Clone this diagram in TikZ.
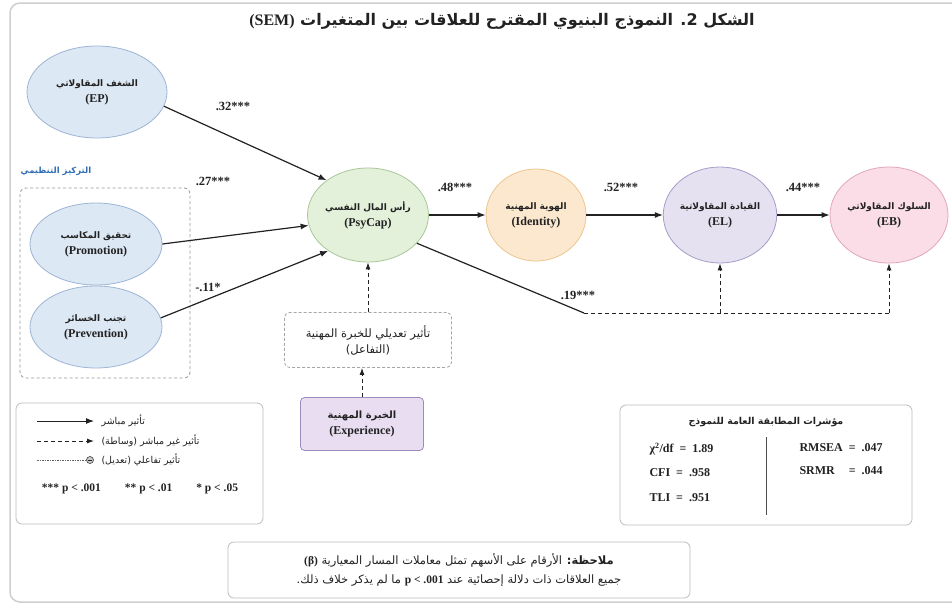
\documentclass[tikz,border=0pt]{standalone}
\usepackage{fontspec}
\setmainfont{Liberation Serif}
\newfontfamily\arfont[Script=Arabic]{DejaVu Sans}
\TeXXeTstate=1
\usetikzlibrary{shapes.geometric,arrows.meta,calc}
\newcommand{\AR}[1]{{\arfont\beginR #1\endR}}
\newcommand{\LT}[1]{\beginL{\normalfont\bfseries #1}\endL}
\newcommand{\ARL}[1]{{\fontsize{9}{11}\selectfont\arfont\bfseries\beginR #1\endR}}
\newcommand{\LAT}[1]{{\fontsize{12}{13}\selectfont\bfseries #1}}
\definecolor{epfill}{HTML}{DDE8F5}\definecolor{epdraw}{HTML}{9DB4D4}
\definecolor{psyfill}{HTML}{E3F0DA}\definecolor{psydraw}{HTML}{A8C898}
\definecolor{idfill}{HTML}{FCE8CF}\definecolor{iddraw}{HTML}{EDC68E}
\definecolor{elfill}{HTML}{E6E1F1}\definecolor{eldraw}{HTML}{A79DC9}
\definecolor{ebfill}{HTML}{FADDE6}\definecolor{ebdraw}{HTML}{E3A6BA}
\definecolor{expfill}{HTML}{E9DEF1}\definecolor{expdraw}{HTML}{9C8CBE}
\definecolor{grpblue}{HTML}{2F6DB5}
\definecolor{ink}{HTML}{222222}
\definecolor{framec}{HTML}{CFCFCF}
\definecolor{boxline}{HTML}{BDBDBD}
\begin{document}
\begin{tikzpicture}[x=1pt,y=-1pt,
  latent/.style 2 args={ellipse, draw=#2, fill=#1, line width=0.8pt, inner sep=0pt, align=center, text=ink},
  coef/.style={font=\bfseries\fontsize{12.5}{13}\selectfont, text=ink},
  direct/.style={draw=ink, line width=1.2pt, -{Latex[length=8pt,width=6pt]}},
  plainline/.style={draw=ink, line width=1.2pt},
  dashedline/.style={draw=ink, line width=0.9pt, dash pattern=on 4pt off 3pt},
  dashedarrow/.style={dashedline, -{Latex[length=7pt,width=5pt]}},
  panel/.style={draw=boxline, line width=0.8pt, rounded corners=6pt, fill=white},
  legtxt/.style={font=\fontsize{9.5}{11}\selectfont, text=ink},
  notetxt/.style={font=\fontsize{11.5}{13}\selectfont, text=ink},
  fit/.style={font=\bfseries\fontsize{12}{13}\selectfont, text=ink}
]
\useasboundingbox (0,0) rectangle (952,605);
\fill[white] (0,0) rectangle (952,605);
\draw[framec, line width=1.5pt, rounded corners=10pt] (10,3) rectangle (995,602);

% title
\node[font=\bfseries\fontsize{16}{18}\selectfont, text=ink] (title) at (502,21)
  {\AR{\bfseries الشكل 2. النموذج البنيوي المقترح للعلاقات بين المتغيرات \LT{(SEM)}}};

% latent variables
\node[latent={epfill}{epdraw}, minimum width=140, minimum height=92] (EP) at (97,92)
  {\ARL{الشغف المقاولاتي}\\[4pt]\LAT{(EP)}};
\node[font=\bfseries\fontsize{8.5}{10}\selectfont, text=grpblue] (grp) at (56,171) {\AR{التركيز التنظيمي}};
\draw[boxline!80!black, line width=0.8pt, dash pattern=on 3pt off 2.5pt, rounded corners=6pt] (20,188) rectangle (190,378);
\node[latent={epfill}{epdraw}, minimum width=132, minimum height=82] (Pro) at (96,244)
  {\ARL{تحقيق المكاسب}\\[4pt]\LAT{(Promotion)}};
\node[latent={epfill}{epdraw}, minimum width=132, minimum height=82] (Prev) at (96,327)
  {\ARL{تجنب الخسائر}\\[4pt]\LAT{(Prevention)}};

\node[latent={psyfill}{psydraw}, minimum width=116, minimum height=94] (Psy) at (368,215)
  {\ARL{رأس المال النفسي}\\[4pt]\LAT{(PsyCap)}};
\node[latent={idfill}{iddraw}, minimum width=100, minimum height=92] (Id) at (536,215)
  {\ARL{الهوية المهنية}\\[4pt]\LAT{(Identity)}};
\node[latent={elfill}{eldraw}, minimum width=112, minimum height=96] (EL) at (720,215)
  {\ARL{القيادة المقاولاتية}\\[4pt]\LAT{(EL)}};
\node[latent={ebfill}{ebdraw}, minimum width=114, minimum height=96] (EB) at (889,215)
  {\ARL{السلوك المقاولاتي}\\[4pt]\LAT{(EB)}};

% direct paths
\draw[direct] (EP.-12) -- (Psy.140);
\draw[direct] (Pro.east) -- (Psy.190);
\draw[direct] (Prev.8) -- (Psy.222);
\draw[direct] (Psy.east) -- (Id.west);
\draw[direct] (Id.east) -- (EL.west);
\draw[direct] (EL.east) -- (EB.west);

\node[coef] (c32) at (233,106) {.32***};
\node[coef] (c27) at (213,181) {.27***};
\node[coef] (c11) at (208,287) {-.11*};
\node[coef] (c48) at (455,187) {.48***};
\node[coef] (c52) at (621,187) {.52***};
\node[coef] (c44) at (803,187) {.44***};

% indirect path
\coordinate (corner) at (584,313);
\coordinate (endB) at (EB.south |- corner);
\coordinate (endL) at (EL.south |- corner);
\draw[plainline] (Psy.-30) -- (corner);
\draw[dashedline] (corner) -- (endB);
\draw[dashedarrow] (endL) -- (EL.south);
\draw[dashedarrow] (endB) -- (EB.south);
\node[coef] (c19) at (578,295) {.19***};

% moderation
\node[draw=gray!70, line width=0.8pt, dash pattern=on 3pt off 2pt, rounded corners=5pt, minimum width=167, minimum height=55,
  align=center, text=ink, font=\fontsize{11.5}{16}\selectfont] (Mod) at (368,340)
  {\AR{تأثير تعديلي للخبرة المهنية}\\\AR{(التفاعل)}};
\node[draw=expdraw, fill=expfill, line width=0.8pt, rounded corners=4pt, minimum width=123, minimum height=53,
  align=center, text=ink] (Exp) at (362,424)
  {{\fontsize{10}{12}\selectfont\arfont\bfseries\beginR الخبرة المهنية\endR}\\[4pt]\LAT{(Experience)}};
\draw[dashedarrow] (Mod.north) -- (Mod.north |- Psy.south);
\draw[dashedarrow] (Exp.north) -- (Exp.north |- Mod.south);

% legend
\draw[panel] (16,403) rectangle (263,524);
\coordinate (la1) at (37,421); \coordinate (lb1) at (94,421);
\coordinate (la2) at (37,441); \coordinate (lb2) at (94,441);
\coordinate (la3) at (37,460); \coordinate (lb3) at (86,460);
\draw[direct, line width=1pt] (la1) -- (lb1);
\draw[dashedarrow] (la2) -- (lb2);
\draw[ink!70, line width=0.6pt, dash pattern=on 1.5pt off 1pt] (la3) -- (lb3);
\node[circle, draw=ink!80, fill=gray!40, line width=0.7pt, minimum size=7pt, inner sep=0pt] (lc3) at (90,460) {};
\draw[ink, line width=0.6pt] ($(lc3)+(-2,0)$) -- ($(lc3)+(2,0)$);
\node[legtxt, anchor=west] (lt1) at (98,421) {\AR{تأثير مباشر}};
\node[legtxt, anchor=west] (lt2) at (98,441) {\AR{تأثير غير مباشر (وساطة)}};
\node[legtxt, anchor=west] (lt3) at (98,460) {\AR{تأثير تفاعلي (تعديل)}};
\node[font=\bfseries\fontsize{11.5}{13}\selectfont, text=ink] (pv) at (140,489)
  {*** p < .001\hspace{24pt}** p < .01\hspace{24pt}* p < .05};

% fit indices
\draw[panel] (620,405) rectangle (912,525);
\node[font=\bfseries\fontsize{9.5}{11}\selectfont, text=ink] (fitT) at (766,422) {\AR{مؤشرات المطابقة العامة للنموذج}};
\coordinate (dv1) at (766,437); \coordinate (dv2) at (766,515);
\draw[ink!80, line width=0.8pt] (dv1) -- (dv2);
\node[fit, anchor=west] (f1) at (646,449) {χ\textsuperscript{2}/df\ \ =\ \ 1.89};
\node[fit, anchor=west] (f2) at (646,473) {CFI\ \ =\ \ .958};
\node[fit, anchor=west] (f3) at (646,498) {TLI\ \ =\ \ .951};
\node[fit, anchor=west] (f4) at (796,448) {RMSEA\ \ =\ \ .047};
\node[fit, anchor=west] (f5) at (796,471) {SRMR};
\node[fit, anchor=east] (f5v) at (f4.east |- f5) {=\ \ .044};

% note
\draw[panel] (228,542) rectangle (690,598);
\node[notetxt] (n1) at (459,560)
  {\AR{{\bfseries ملاحظة:} الأرقام على الأسهم تمثل معاملات المسار المعيارية \LT{(β)}}};
\node[notetxt] (n2) at (459,581)
  {\AR{جميع العلاقات ذات دلالة إحصائية عند \LT{p < .001} ما لم يذكر خلاف ذلك.}};
\end{tikzpicture}
\end{document}
